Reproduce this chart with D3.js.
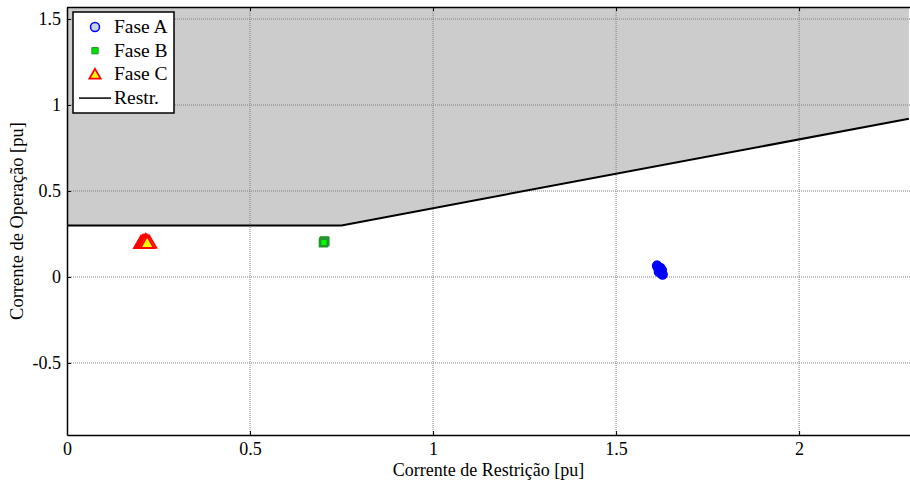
<!DOCTYPE html>
<html>
<head>
<meta charset="utf-8">
<script src="https://cdn.jsdelivr.net/npm/d3@7"></script>
<style>
  body { margin: 0; background: #fff; }
  svg text { font-family: "Liberation Serif", "Times New Roman", serif; }
</style>
</head>
<body>
<div id="chart"></div>
<script>
// restraint characteristic (pickup 0.3 pu, slope 0.4)
const restrX = [0, 0.75, 2.3];
const restrY = [0.3, 0.3, 0.92];

// measured operating points for each phase
const faseA = [
  [1.612, 0.066], [1.614, 0.058], [1.616, 0.05], [1.618, 0.042], [1.62, 0.036],
  [1.622, 0.03], [1.624, 0.024], [1.626, 0.018], [1.627, 0.014], [1.617, 0.03],
  [1.621, 0.052], [1.625, 0.04]
];
const faseB = [
  [0.700, 0.198], [0.701, 0.205], [0.703, 0.211], [0.705, 0.207], [0.702, 0.2]
];
const faseC = [
  [0.202, 0.192], [0.206, 0.195], [0.21, 0.199], [0.214, 0.203], [0.217, 0.2],
  [0.221, 0.197], [0.225, 0.193], [0.213, 0.192], [0.219, 0.192]
];

const xTicks = [0, 0.5, 1, 1.5, 2];
const yTicks = [-0.5, 0, 0.5, 1, 1.5];

const width = 910, height = 482;
const margin = {top: 7, right: 0, bottom: 47, left: 67};

const svg = d3.select("#chart").append("svg")
    .attr("width", width)
    .attr("height", height);

const x = d3.scaleLinear().domain([0, 2.303]).range([margin.left, width - margin.right]);
const y = d3.scaleLinear().domain([-0.919, 1.57]).range([height - margin.bottom, margin.top]);

const x0 = x.range()[0], x1 = x.range()[1];
const y0 = y.range()[0], y1 = y.range()[1];

// trip region (above the restraint line)
const restr = restrX.map((v, i) => [v, restrY[i]]);
const area = d3.area()
    .x(d => x(d[0]))
    .y0(y1)
    .y1(d => y(d[1]));
svg.append("path")
    .datum(restr)
    .attr("d", area)
    .attr("fill", "#cccccc");

// grid
svg.append("g")
    .selectAll("line")
    .data(xTicks.slice(1))
    .join("line")
    .attr("x1", d => x(d)).attr("x2", d => x(d))
    .attr("y1", y1).attr("y2", y0)
    .attr("stroke", "#808080")
    .attr("stroke-width", 1)
    .attr("stroke-dasharray", "1,1");
svg.append("g")
    .selectAll("line")
    .data(yTicks)
    .join("line")
    .attr("x1", x0).attr("x2", x1)
    .attr("y1", d => y(d)).attr("y2", d => y(d))
    .attr("stroke", "#808080")
    .attr("stroke-width", 1)
    .attr("stroke-dasharray", "1,1");

// restraint line
svg.append("path")
    .datum(restr)
    .attr("d", d3.line().x(d => x(d[0])).y(d => y(d[1])))
    .attr("fill", "none")
    .attr("stroke", "#000")
    .attr("stroke-width", 2);

// axes
const fmt = d => String(d);
const xAxis = svg.append("g")
    .attr("transform", `translate(0,${y0})`)
    .call(d3.axisBottom(x).tickValues(xTicks).tickSizeInner(-4).tickSizeOuter(0).tickPadding(7).tickFormat(fmt));
const xTop = svg.append("g")
    .attr("transform", `translate(0,${y1})`)
    .call(d3.axisTop(x).tickValues(xTicks).tickSizeInner(-4).tickSizeOuter(0).tickFormat(""));
const yAxis = svg.append("g")
    .attr("transform", `translate(${x0},0)`)
    .call(d3.axisLeft(y).tickValues(yTicks).tickSizeInner(-4).tickSizeOuter(0).tickPadding(6).tickFormat(fmt));

[xAxis, xTop, yAxis].forEach(g => {
    g.select(".domain").attr("stroke", "#000").attr("stroke-width", 1.5);
    g.selectAll(".tick line").attr("stroke", "#000");
    g.selectAll("text")
        .attr("font-family", "Liberation Serif, serif")
        .attr("font-size", 18)
        .attr("fill", "#000");
});

// data points
const sym = (type, size) => d3.symbol().type(type).size(size);

svg.append("g").selectAll("path")
    .data(faseC)
    .join("path")
    .attr("transform", d => `translate(${x(d[0])},${y(d[1])})`)
    .attr("d", sym(d3.symbolTriangle, 80))
    .attr("fill", "#ffff00")
    .attr("stroke", "#ff0000")
    .attr("stroke-width", 2);

svg.append("g").selectAll("path")
    .data(faseB)
    .join("path")
    .attr("transform", d => `translate(${x(d[0])},${y(d[1])})`)
    .attr("d", sym(d3.symbolSquare, 50))
    .attr("fill", "#00ff00")
    .attr("stroke", "#22962a")
    .attr("stroke-width", 2);

svg.append("g").selectAll("circle")
    .data(faseA)
    .join("circle")
    .attr("cx", d => x(d[0]))
    .attr("cy", d => y(d[1]))
    .attr("r", 4.5)
    .attr("fill", "#0000ff")
    .attr("stroke", "#0000ff")
    .attr("stroke-width", 1.5);

// axis labels
svg.append("text")
    .attr("x", (x0 + x1) / 2)
    .attr("y", 476)
    .attr("text-anchor", "middle")
    .attr("font-size", 18)
    .text("Corrente de Restrição [pu]");

svg.append("text")
    .attr("transform", `translate(23,${(y0 + y1) / 2}) rotate(-90)`)
    .attr("text-anchor", "middle")
    .attr("font-size", 18.5)
    .text("Corrente de Operação [pu]");

// legend
const lg = svg.append("g").attr("transform", "translate(73,12)");
lg.append("rect")
    .attr("width", 101).attr("height", 101)
    .attr("fill", "#fff")
    .attr("stroke", "#000")
    .attr("stroke-width", 1.5);

const legendItems = ["Fase A", "Fase B", "Fase C", "Restr."];
const rows = lg.selectAll("g.row")
    .data(legendItems)
    .join("g")
    .attr("class", "row")
    .attr("transform", (d, i) => `translate(0,${15 + i * 23.7})`);

rows.append("text")
    .attr("x", 41)
    .attr("y", 6)
    .attr("font-size", 19.5)
    .text(d => d);

rows.filter((d, i) => i === 0).append("circle")
    .attr("cx", 22).attr("r", 4.5)
    .attr("fill", "#c6d6e0").attr("stroke", "#0000ff").attr("stroke-width", 1.5);
rows.filter((d, i) => i === 1).append("path")
    .attr("transform", "translate(22,0)")
    .attr("d", sym(d3.symbolSquare, 40))
    .attr("fill", "#00e000").attr("stroke", "#22962a").attr("stroke-width", 1);
rows.filter((d, i) => i === 2).append("path")
    .attr("transform", "translate(22,1)")
    .attr("d", sym(d3.symbolTriangle, 55))
    .attr("fill", "#ffff00").attr("stroke", "#ff0000").attr("stroke-width", 1.8);
rows.filter((d, i) => i === 3).append("line")
    .attr("x1", 6).attr("x2", 38)
    .attr("stroke", "#000").attr("stroke-width", 1.5);
</script>
</body>
</html>
